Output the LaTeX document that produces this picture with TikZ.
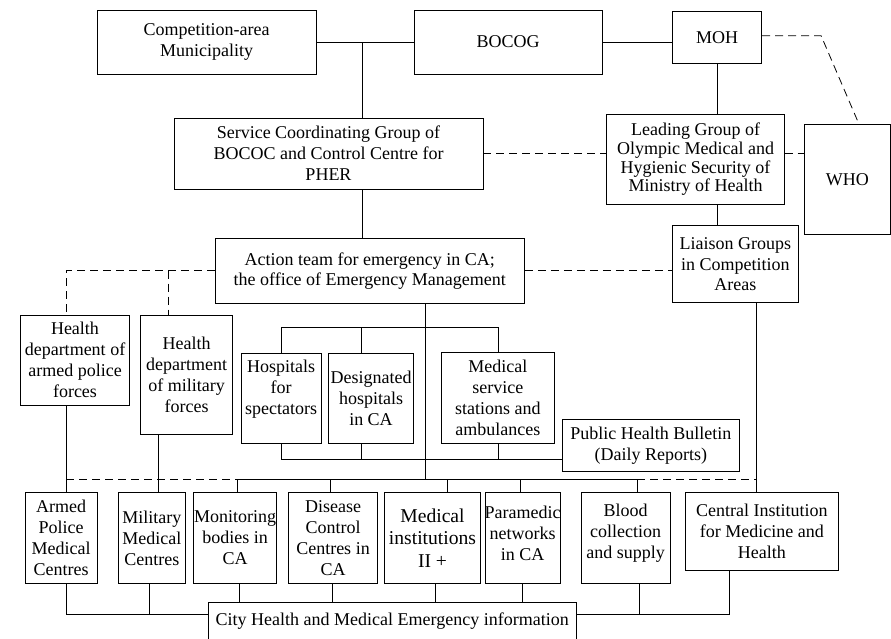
\documentclass[tikz,border=0pt]{standalone}
\usepackage{fontspec}
\setmainfont{Liberation Serif}
\begin{document}
\begin{tikzpicture}[x=1pt,y=-1pt,
  txt/.style={align=center, inner sep=0pt, text=black, font=\fontsize{18}{21}\selectfont},
  box/.style={txt, draw=black, line width=0.8pt},
  sz/.style 2 args={minimum width=#1pt, minimum height=#2pt},
  conn/.style={draw=black, line width=0.8pt},
  dashconn/.style={conn, dash pattern=on 8pt off 5pt},
]
\useasboundingbox (0,0) rectangle (891,638);

% --- top level ---
\node[box, sz={219}{64}] (muni) at (206.5,42) {Competition-area\\Municipality};
\node[box, sz={188}{64}] (bocog) at (508,42) {BOCOG};
\node[box, sz={89.4}{52}] (moh) at (717,37.7) {MOH};
\node[box, sz={309}{71}] (svc) at (328.5,153.5) {Service Coordinating Group of\\BOCOC and Control Centre for\\PHER};
\node[box, sz={177.6}{90.4}, font=\fontsize{18}{18.7}\selectfont] (lead) at (695.5,159.5) {Leading Group of\\Olympic Medical and\\Hygienic Security of\\Ministry of Health};
\node[box, sz={86.2}{110}] (who) at (847.4,179.3) {WHO};
\node[box, sz={309.3}{64.7}, font=\fontsize{18}{20}\selectfont] (action) at (369.7,270.7) {Action team for emergency in CA;\\the office of Emergency Management};
\node[box, sz={126}{77}, font=\fontsize{18}{20.5}\selectfont] (liaison) at (735.3,264.2) {Liaison Groups\\in Competition\\Areas};

% --- middle level ---
\node[box, sz={108.6}{90}] (hap) at (75,360) {Health\\department of\\armed police\\forces};
\node[box, sz={92}{119.3}] (hmil) at (186.7,374.7) {Health\\department\\of military\\forces};
\node[box, sz={80.3}{90}] (hosp) at (281.2,398.3) {};
\node[txt] (hospt) at ([yshift=9pt]hosp.center) {Hospitals\\for\\spectators};
\node[box, sz={84.6}{90}] (des) at (371,398.3) {Designated\\hospitals\\in CA};
\node[box, sz={112.3}{90.6}] (mss) at (497.9,398) {Medical\\service\\stations and\\ambulances};
\node[box, sz={177}{52.4}] (phb) at (650.8,445.5) {Public Health Bulletin\\(Daily Reports)};

% --- bottom row ---
\node[box, sz={71.7}{90.6}] (apmc) at (61.2,538) {Armed\\Police\\Medical\\Centres};
\node[box, sz={67}{90.6}] (mmc) at (151.8,538) {Military\\Medical\\Centres};
\node[box, sz={83}{90.6}] (mon) at (235.2,538) {Monitoring\\bodies in\\CA};
\node[box, sz={89.4}{90.6}] (dis) at (333,538) {Disease\\Control\\Centres in\\CA};
\node[box, sz={96.4}{90.6}, font=\fontsize{19.6}{22.3}\selectfont] (mi) at (432.5,538) {Medical\\institutions\\II +};
\node[box, sz={75.3}{90.6}] (para) at (522.7,538) {};
\node[txt] (parat) at ([yshift=5pt]para.center) {Paramedic\\networks\\in CA};
\node[box, sz={89.3}{90.6}] (blood) at (625.7,538) {};
\node[txt] (bloodt) at ([yshift=5pt]blood.center) {Blood\\collection\\and supply};
\node[box, sz={153}{77.6}] (central) at (761.8,531.5) {Central Institution\\for Medicine and\\Health};
\node[box, sz={367.7}{37.8}] (city) at (392.2,621.2) {City Health and Medical Emergency information};

% --- reference positions for connector runs ---
\coordinate (j1) at (362,42);
\coordinate (ax) at (66,0);
\coordinate (mx) at (168.3,0);
\coordinate (mv) at (158.7,0);
\coordinate (bus) at (425.3,479.3);
\coordinate (bt) at (0,327.7);
\coordinate (bb) at (0,459);
\coordinate (dx) at (361,0);
\coordinate (monx) at (237.7,0);
\coordinate (disx) at (330.3,0);
\coordinate (mix) at (447.3,0);
\coordinate (parx) at (520.3,0);
\coordinate (blx) at (637.3,0);
\coordinate (lx) at (756.3,0);
\coordinate (ll) at (0,614.3);
\coordinate (s1) at (239.3,0);
\coordinate (s2) at (332.3,0);
\coordinate (s3) at (435,0);
\coordinate (s4) at (522.3,0);
\coordinate (s5) at (639.3,0);
\coordinate (s6) at (729.3,0);
\coordinate (s7) at (149.7,0);

% --- top connectors ---
\draw[conn] (muni.east) -- (bocog.west);
\draw[conn] (j1) -- (j1 |- svc.north);
\draw[conn] (bocog.east) -- (bocog.east -| moh.west);
\draw[dashconn] ([yshift=2pt]moh.east) -- ++(59,0) -- ([xshift=55pt]who.north west);
\draw[conn] (moh.south) -- (moh.south |- lead.north);
\draw[conn] (moh.south |- lead.south) -- (moh.south |- liaison.north);
\draw[dashconn] (svc.east) -- (svc.east -| lead.west);
\draw[dashconn] (svc.east -| lead.east) -- (svc.east -| who.west);
\draw[conn] (j1 |- svc.south) -- (j1 |- action.north);

% --- action team links ---
\draw[dashconn] (action.west) -- (action.west -| ax) -- (ax |- hap.north);
\draw[dashconn] (action.west -| mx) -- (mx |- hmil.north);
\draw[dashconn] (action.east) -- (action.east -| liaison.west);
\draw[conn] (action.south -| bus) -- (bus);

% --- hospital brackets ---
\draw[conn] (hosp.north) -- (hosp.north |- bt) -- (mss.north |- bt) -- (mss.north);
\draw[conn] (dx |- des.north) -- (dx |- bt);
\draw[conn] (hosp.south) -- (hosp.south |- bb) -- (bb -| phb.west);
\draw[conn] (dx |- des.south) -- (dx |- bb);
\draw[conn] (mss.south) -- (mss.south |- bb);

% --- distribution bus ---
\draw[conn] (ax |- hap.south) -- (ax |- apmc.north);
\draw[conn] (mv |- hmil.south) -- (mv |- mmc.north);
\draw[dashconn] (ax |- bus) -- (monx |- bus);
\draw[conn] (monx |- bus) -- (blx |- bus);
\draw[dashconn] (blx |- bus) -- (lx |- bus);
\draw[conn] (lx |- liaison.south) -- (lx |- central.north);
\foreach \c/\n in {monx/mon, disx/dis, mix/mi, parx/para, blx/blood}
  \draw[conn] (\c |- bus) -- (\c |- \n.north);

% --- links to the city information system ---
\draw[conn] (ax |- apmc.south) |- (city.west |- ll);
\draw[conn] (s7 |- mmc.south) -- (s7 |- ll);
\draw[conn] (s1 |- mon.south) -- (s1 |- city.north);
\draw[conn] (s2 |- dis.south) -- (s2 |- city.north);
\draw[conn] (s3 |- mi.south) -- (s3 |- city.north);
\draw[conn] (s4 |- para.south) -- (s4 |- city.north);
\draw[conn] (s5 |- blood.south) -- (s5 |- ll);
\draw[conn] (s6 |- central.south) |- (city.east |- ll);
\end{tikzpicture}
\end{document}
